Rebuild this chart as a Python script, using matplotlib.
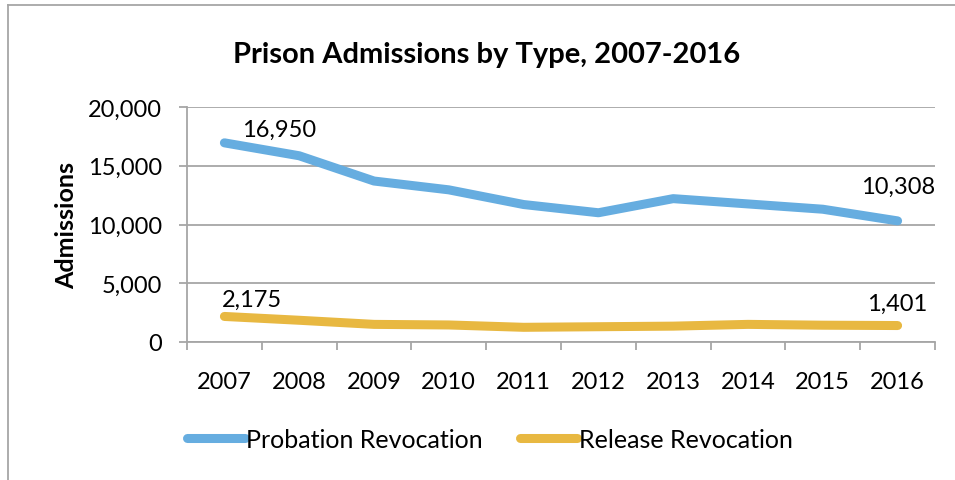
import matplotlib.pyplot as plt
from matplotlib.lines import Line2D
from matplotlib.ticker import FuncFormatter
import numpy as np

years = ["2007", "2008", "2009", "2010", "2011", "2012", "2013", "2014", "2015", "2016"]
probation = [16950, 15850, 13700, 12950, 11700, 11000, 12200, 11750, 11300, 10308]
release = [2175, 1850, 1500, 1450, 1250, 1300, 1350, 1500, 1430, 1401]

blue = "#66ADE0"
gold = "#E8B841"
grid_c = "#A6A6A6"

plt.rcParams["font.family"] = ["Lato", "DejaVu Sans"]

fig = plt.figure(figsize=(9.55, 4.81), dpi=100)
ax = fig.add_axes([187/955, 1 - 343/481, (935-187)/955, (343-108)/481])

x = np.arange(len(years))
ax.plot(x, probation, color=blue, lw=6.5, solid_capstyle="round", solid_joinstyle="round",
        label="Probation Revocation", zorder=3)
ax.plot(x, release, color=gold, lw=6.5, solid_capstyle="round", solid_joinstyle="round",
        label="Release Revocation", zorder=3)

ax.set_xlim(-0.5, len(years) - 0.5)
ax.set_ylim(0, 20000)
ax.set_yticks([0, 5000, 10000, 15000, 20000])
ax.yaxis.set_major_formatter(FuncFormatter(lambda v, p: f"{int(v):,}"))
ax.set_xticks(x)
ax.set_xticklabels(years)
ax.set_xticks(np.arange(-0.5, len(years)), minor=True)
ax.tick_params(axis="x", which="major", length=0, pad=21, labelsize=17)
ax.tick_params(axis="x", which="minor", length=6, width=1.3, color=grid_c, direction="out")
ax.tick_params(axis="y", length=6, width=1.3, color=grid_c, labelsize=17, pad=12)

ax.grid(axis="y", color=grid_c, lw=1.3)
ax.set_axisbelow(True)
for s in ["top", "right"]:
    ax.spines[s].set_visible(False)
for s in ["left", "bottom"]:
    ax.spines[s].set_color(grid_c)
    ax.spines[s].set_linewidth(1.3)

ax.set_ylabel("Admissions", fontsize=18, fontweight="bold", labelpad=7)
fig.text(487/955, 1 - 55/481, "Prison Admissions by Type, 2007-2016",
         ha="center", va="center", fontsize=21, fontweight="bold")

# data labels at the ends
ax.annotate(f"{probation[0]:,}", (0, probation[0]), xytext=(13, 10), textcoords="offset points",
            ha="left", va="center", fontsize=17)
ax.annotate(f"{probation[-1]:,}", (9, probation[-1]), xytext=(0, 25), textcoords="offset points",
            ha="center", va="center", fontsize=17)
ax.annotate(f"{release[0]:,}", (0, release[0]), xytext=(-2, 12), textcoords="offset points",
            ha="left", va="center", fontsize=17)
ax.annotate(f"{release[-1]:,}", (9, release[-1]), xytext=(0, 16), textcoords="offset points",
            ha="center", va="center", fontsize=17)

ax.legend(loc="center left", bbox_to_anchor=(0.0, -0.413), ncol=2, frameon=False,
          fontsize=18, handlelength=2.3, handletextpad=0.05, columnspacing=1.5,
          borderaxespad=0, borderpad=0)

# chart frame (left and top edges)
fig.add_artist(Line2D([8/955, 8/955], [0, 1 - 6/481], color=grid_c, lw=1.3))
fig.add_artist(Line2D([8/955, 1], [1 - 6/481, 1 - 6/481], color=grid_c, lw=1.3))

fig.savefig("out.png", dpi=100)
